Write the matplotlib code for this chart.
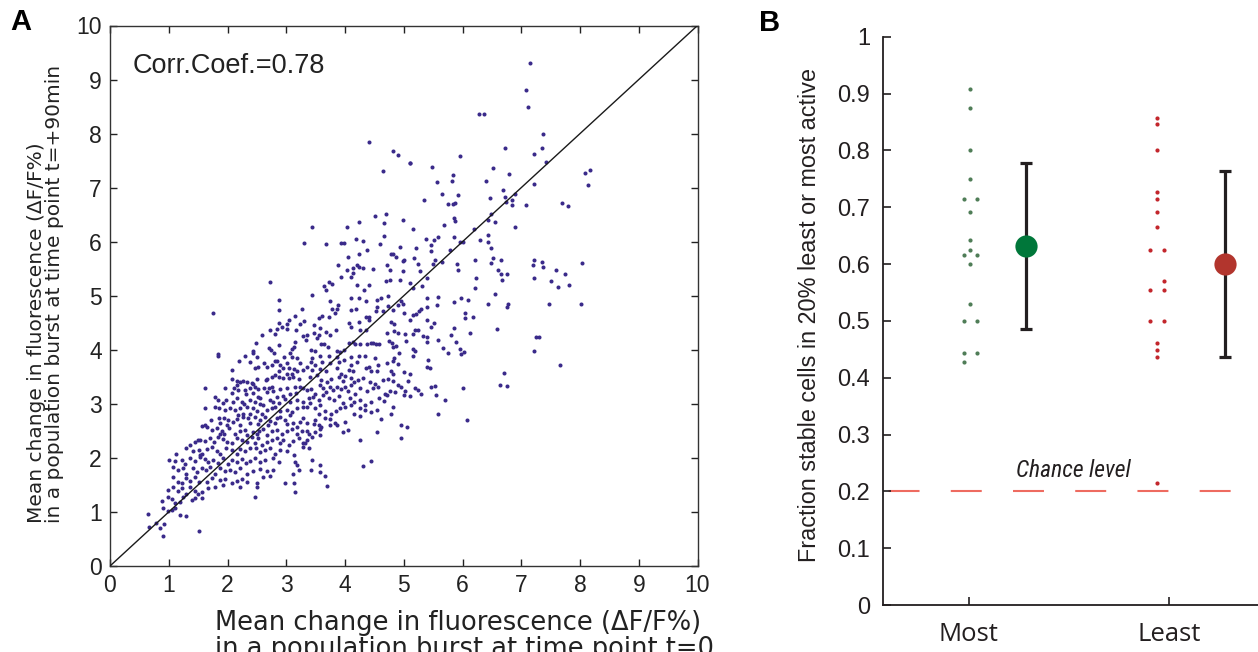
import matplotlib
matplotlib.use('Agg')
import matplotlib.pyplot as plt

plt.rcParams['font.family'] = ['Liberation Sans', 'DejaVu Sans']
plt.rcParams['lines.scale_dashes'] = False

# ------------------------------------------------------------------
# Panel A data: mean dF/F per cell at t=0 (x) and t=+90min (y)
# (grouped by region of the scatter)
# ------------------------------------------------------------------
cloud_upper_left = [
    (4.40,7.84),(4.81,7.67),(4.91,7.60),(4.65,7.31),(5.10,7.45),(3.44,6.28),(3.31,5.97),(3.68,5.96),
    (4.04,6.27),(4.23,6.36),(4.51,6.48),(4.69,6.52),(4.66,6.35),(4.99,6.40),(3.94,5.98),(3.99,5.97),
    (4.18,6.05),(4.31,6.01),(4.66,6.11),(4.60,5.96),(4.05,5.71),(4.24,5.78),(4.38,5.85),(4.78,5.78),
    (4.82,5.77),(4.87,5.72),(4.93,5.91),(3.88,5.56),(4.04,5.48),(4.13,5.51),(4.21,5.57),(4.13,5.43),
    (4.24,5.53),(4.31,5.51),(4.47,5.49),(4.72,5.56),(4.77,5.48),(4.99,5.46),(4.99,5.65),(2.73,5.25),
    (3.64,5.18),(3.73,5.26),(3.78,5.21),(3.94,5.34),(4.10,5.35),(4.20,5.20),(4.41,5.19),(4.33,5.10),
    (3.67,5.10),(4.70,5.27),(4.77,5.29),(4.93,5.30),(4.73,5.00),(3.44,5.01),(4.10,4.96),(4.23,4.96),
    (4.62,4.95),
]
cloud_upper_right = [
    (7.15,9.30),(7.08,8.80),(7.12,8.49),(6.28,8.36),(6.36,8.37),(7.37,8.00),(6.72,7.73),(7.36,7.73),
    (7.21,7.63),(7.42,7.47),(5.95,7.58),(5.11,7.46),(5.48,7.38),(6.52,7.36),(5.84,7.23),(5.82,7.13),
    (6.79,7.26),(8.08,7.27),(8.17,7.33),(8.14,7.04),(5.56,7.10),(6.40,7.12),(7.22,7.07),(5.65,6.88),
    (5.93,6.86),(6.69,6.96),(6.89,6.89),(5.35,6.77),(5.76,6.69),(5.83,6.70),(5.87,6.71),(6.47,6.80),
    (6.72,6.83),(6.84,6.77),(6.85,6.67),(6.74,6.73),(7.08,6.67),(7.70,6.72),(7.79,6.66),(6.48,6.52),
    (6.43,6.40),(6.56,6.36),(5.85,6.43),(5.88,6.38),(5.69,6.30),(5.16,6.23),(6.20,6.23),(6.89,6.28),
    (5.38,6.05),(5.52,6.04),(5.58,6.08),(5.85,6.08),(5.96,5.99),(6.00,5.99),(6.29,6.03),(6.43,6.12),
    (6.44,6.00),(6.49,5.88),(5.21,5.88),(5.46,5.93),(5.46,5.82),(5.78,5.85),(5.00,5.66),(5.17,5.69),
    (5.24,5.59),(5.53,5.67),(5.49,5.58),(5.65,5.62),(5.92,5.48),(5.91,5.59),(6.22,5.66),(6.52,5.70),
    (6.48,5.61),(6.66,5.66),(6.60,5.48),(6.66,5.40),(6.75,5.40),(6.68,5.30),(6.23,5.33),(6.21,5.14),
    (6.55,5.04),(7.21,5.67),(7.20,5.56),(7.36,5.62),(7.37,5.54),(7.21,5.33),(7.51,5.28),(7.59,5.47),
    (7.63,5.17),(7.74,5.41),(7.82,5.19),(8.03,5.61),(5.27,5.45),(5.40,5.33),(5.31,5.18),(5.15,5.14),
    (5.11,5.23),(5.40,4.96),(5.59,4.97),(5.97,4.95),
]
cloud_right_mid = [
    (4.99,4.85),(5.85,4.88),(6.10,4.92),(6.44,4.84),(6.76,4.80),(6.78,4.85),(7.47,4.85),(8.01,4.84),
    (5.57,4.82),(5.39,4.79),(5.30,4.76),(5.26,4.72),(5.21,4.66),(5.15,4.65),(5.11,4.56),(5.01,4.69),
    (6.04,4.69),(6.04,4.59),(6.18,4.61),(5.40,4.55),(5.51,4.50),(5.47,4.43),(5.19,4.37),(5.24,4.37),
    (6.58,4.38),(5.85,4.40),(5.80,4.28),(6.13,4.32),(5.02,4.30),(5.15,4.29),(5.33,4.25),(5.40,4.23),
    (5.03,4.17),(5.39,4.14),(5.59,4.19),(7.25,4.24),(7.30,4.24),(5.89,4.14),(5.66,4.04),(5.75,3.94),
    (5.96,4.01),(5.97,3.93),(6.03,3.96),(5.15,4.01),(5.19,3.97),(5.15,3.89),(7.21,3.97),(5.42,3.82),
    (5.39,3.69),(5.45,3.66),(7.66,3.72),(5.01,3.59),(5.10,3.56),(5.07,3.42),(6.70,3.58),(6.64,3.35),
    (6.75,3.33),(6.01,3.29),(4.95,3.31),(5.02,3.23),(5.00,3.16),(5.11,3.15),(5.19,3.29),(5.25,3.25),
    (5.29,3.19),(5.47,3.31),(5.53,3.33),(5.55,3.17),(5.70,3.07),(5.59,2.82),(6.07,2.70),(4.96,2.60),
    (5.06,2.57),(4.96,2.36),
]
cloud_left_edge = [
    (1.75,4.69),(2.87,4.92),(2.88,4.74),(3.26,4.76),(3.15,4.63),(3.05,4.55),(3.01,4.48),(2.93,4.42),
    (2.87,4.49),(2.84,4.39),(2.72,4.37),(3.02,4.38),(3.17,4.36),(3.30,4.53),(3.24,4.48),(2.80,4.30),
    (2.58,4.27),(2.88,4.09),(3.29,4.26),(2.49,4.12),(3.15,4.15),(3.13,4.06),(3.09,4.01),(3.06,3.95),
    (2.71,4.03),(2.74,4.00),(2.79,3.95),(2.43,3.98),(2.43,3.94),(1.83,3.92),
]
cloud_mid_band = [
    (3.75,4.90),(3.88,4.82),(4.35,4.90),(4.55,4.92),(4.95,4.90),(3.78,4.75),(3.86,4.76),(4.11,4.74),
    (4.18,4.75),(4.54,4.79),(4.73,4.81),(4.82,4.74),(4.91,4.82),(4.52,4.71),(4.64,4.72),(4.36,4.61),
    (4.41,4.61),(3.60,4.63),(3.56,4.58),(3.72,4.60),(3.83,4.69),(3.48,4.45),(3.57,4.41),(4.06,4.50),
    (4.10,4.43),(4.24,4.51),(4.40,4.56),(4.78,4.52),(4.83,4.48),(3.36,4.27),(3.47,4.32),(3.56,4.27),
    (3.68,4.33),(3.74,4.27),(3.85,4.36),(4.25,4.36),(4.36,4.36),(4.71,4.32),(4.84,4.34),(4.90,4.32),
    (3.33,4.18),(3.52,4.22),(3.59,4.11),(3.65,4.10),(3.71,4.06),(4.06,4.13),(4.14,4.14),(4.17,4.11),
    (4.26,4.11),(4.38,4.10),(4.44,4.12),(4.48,4.12),(4.53,4.11),(4.58,4.10),(4.75,4.17),(4.80,4.13),
    (4.87,4.07),(3.42,4.00),(3.49,3.97),(3.86,3.97),(3.91,3.96),(3.98,4.00),(4.81,4.05),(4.92,3.94),
]
cloud_core_left = [
    (1.84,3.89),(2.20,3.79),(2.29,3.89),(2.50,3.87),(2.62,3.75),(2.81,3.80),(2.85,3.79),(2.96,3.87),
    (3.09,3.87),(3.18,3.85),(3.23,3.75),(2.75,3.72),(3.01,3.75),(2.38,3.78),(2.52,3.69),(2.47,3.66),
    (2.67,3.69),(2.89,3.72),(2.95,3.66),(3.05,3.67),(3.13,3.64),(3.29,3.63),(2.88,3.60),(2.81,3.53),
    (3.01,3.56),(3.09,3.55),(3.18,3.60),(2.07,3.63),(2.07,3.46),(2.17,3.42),(2.21,3.40),(2.27,3.42),
    (2.34,3.41),(2.41,3.38),(2.50,3.46),(2.66,3.44),(2.75,3.50),(2.87,3.49),(2.94,3.48),(3.04,3.47),
    (3.12,3.50),(3.21,3.46),(2.16,3.35),(2.44,3.36),(2.67,3.46),(1.61,3.29),(1.96,3.29),(2.11,3.29),
    (2.18,3.26),(2.30,3.26),(2.38,3.29),(2.47,3.32),(2.52,3.27),(2.62,3.30),(2.70,3.29),(2.75,3.32),
    (2.78,3.23),(2.89,3.27),(3.01,3.29),(3.15,3.32),(3.23,3.31),(3.29,3.29),(2.07,3.20),(2.31,3.18),
    (2.44,3.20),(2.52,3.13),(2.67,3.21),(2.84,3.13),(2.95,3.15),(3.06,3.18),(3.17,3.20),(1.79,3.13),
    (1.83,3.07),(1.97,3.07),(2.09,3.04),(1.93,3.01),(2.16,3.10),(2.24,3.04),(2.28,2.99),(2.38,3.07),
    (2.47,3.04),(2.55,3.10),(2.61,2.98),(2.72,3.07),(2.78,3.04),(2.87,3.01),(2.98,3.09),(3.06,3.04),
    (3.18,3.07),(3.28,3.04),(2.56,2.99),(1.62,2.92),(1.79,2.95),(1.86,2.93),(1.96,2.89),(2.04,2.92),
    (2.13,2.89),(2.21,2.93),(2.33,2.95),(2.44,2.92),(2.50,2.86),(2.58,2.82),(2.67,2.89),(2.75,2.92),
    (2.81,2.95),(2.89,2.86),(3.01,2.89),(3.09,2.84),(3.18,2.92),(3.29,2.95),(2.27,2.82),(2.38,2.81),
    (2.18,2.79),(1.72,2.70),(1.86,2.74),(1.94,2.74),(2.01,2.70),(1.87,2.64),(2.10,2.67),(2.16,2.72),
    (2.27,2.76),(2.35,2.73),(2.47,2.76),(2.55,2.71),(2.64,2.76),(2.72,2.68),(2.84,2.73),(2.89,2.76),
    (2.98,2.70),(3.06,2.79),(3.12,2.64),(3.23,2.67),(3.28,2.73),(1.62,2.61),(1.57,2.59),(1.99,2.61),
    (2.21,2.61),(2.38,2.64),(2.52,2.62),(2.69,2.61),(2.81,2.64),(3.01,2.62),(3.18,2.58),(1.65,2.58),
    (1.73,2.52),(1.82,2.55),(1.90,2.50),(1.94,2.44),(2.03,2.55),(2.13,2.45),(2.21,2.49),(2.30,2.52),
    (2.34,2.42),(2.44,2.47),(2.50,2.45),(2.54,2.49),(2.61,2.53),(2.67,2.42),(2.75,2.49),(2.84,2.52),
    (2.92,2.44),(3.01,2.49),(3.09,2.53),(3.18,2.45),(3.26,2.50),(1.87,2.44),(1.50,2.33),(1.37,2.24),
    (1.45,2.30),(1.53,2.33),(1.62,2.31),(1.70,2.36),(1.77,2.29),(1.83,2.39),(1.92,2.35),(1.99,2.30),
    (2.07,2.27),(2.16,2.37),(2.24,2.33),(2.33,2.29),(2.41,2.39),(2.47,2.27),(2.52,2.36),(2.58,2.24),
    (2.67,2.30),(2.75,2.33),(2.84,2.36),(2.89,2.27),(2.95,2.33),(3.04,2.24),(3.12,2.31),(3.21,2.36),
    (3.29,2.27),(1.13,2.07),(1.30,2.18),(1.42,2.12),(1.52,2.15),(1.56,2.08),(1.65,2.16),(1.73,2.21),
    (1.82,2.12),(1.88,2.07),(1.97,2.18),(2.07,2.15),(2.16,2.08),(2.21,2.16),(2.30,2.12),(2.38,2.18),
    (2.49,2.19),(2.55,2.10),(2.64,2.15),(2.72,2.18),(2.81,2.08),(2.89,2.15),(3.01,2.12),(3.14,2.05),
    (3.29,2.21),(1.53,2.05),(1.01,1.96),(1.11,1.94),(1.22,1.96),(1.28,1.88),(1.36,1.99),(1.45,1.94),
    (1.53,2.02),(1.62,1.98),(1.67,1.92),(1.76,1.96),(1.84,1.90),(1.93,1.99),(2.00,1.88),(2.07,1.96),
    (2.16,1.93),(2.24,1.98),(2.31,1.90),(2.38,1.94),(2.47,1.99),(2.55,1.92),(2.64,1.96),(2.78,1.99),
    (2.87,1.93),(3.15,1.93),(3.18,1.87),(1.08,1.84),(1.16,1.78),(1.25,1.81),(1.30,1.71),(1.41,1.81),
    (1.48,1.73),(1.56,1.81),(1.63,1.78),(1.70,1.84),(1.79,1.71),(1.87,1.81),(1.96,1.75),(2.05,1.78),
    (2.13,1.73),(2.21,1.81),(2.33,1.71),(2.44,1.76),(2.55,1.79),(2.67,1.75),(2.78,1.78),(3.12,1.70),
    (3.21,1.78),(1.08,1.65),(1.16,1.56),(1.22,1.53),(1.30,1.62),(1.36,1.57),(1.45,1.65),(1.52,1.55),
    (1.65,1.56),(1.73,1.62),(1.87,1.59),(1.96,1.61),(2.07,1.53),(2.16,1.57),(2.24,1.61),(2.33,1.56),
    (2.50,1.53),(2.60,1.65),(2.72,1.67),(2.98,1.54),(3.13,1.53),(0.99,1.41),(1.08,1.47),(1.16,1.38),
    (1.22,1.44),(1.30,1.34),(1.37,1.47),(1.45,1.39),(1.50,1.33),(1.56,1.36),(1.67,1.44),(1.79,1.47),
    (1.93,1.50),(2.21,1.47),(2.50,1.47),(3.15,1.36),(0.88,1.20),(0.99,1.28),(1.05,1.24),(1.11,1.16),
    (1.19,1.19),(1.25,1.28),(1.39,1.22),(1.45,1.26),(1.56,1.25),(2.47,1.28),(0.91,1.07),(0.99,1.01),
    (1.05,1.04),(1.11,1.08),(1.19,0.94),(1.30,0.93),(0.64,0.96),(0.78,0.79),(0.67,0.73),(0.85,0.70),
    (0.92,0.77),
]
cloud_core_right = [
    (3.43,3.85),(3.57,3.89),(3.73,3.89),(3.86,3.87),(3.99,3.81),(4.11,3.87),(4.23,3.89),(4.34,3.89),
    (4.51,3.85),(4.71,3.75),(4.84,3.84),(4.82,3.79),(4.90,3.73),(4.56,3.72),(4.40,3.69),(4.20,3.77),
    (4.11,3.72),(3.89,3.77),(3.74,3.75),(3.60,3.78),(3.49,3.72),(3.42,3.77),(3.36,3.69),(3.44,3.63),
    (3.57,3.65),(3.67,3.60),(3.86,3.66),(3.93,3.56),(4.06,3.63),(4.14,3.60),(4.35,3.66),(4.45,3.60),
    (4.54,3.61),(4.78,3.60),(4.82,3.56),(4.00,3.52),(3.40,3.50),(3.52,3.53),(3.59,3.44),(3.69,3.41),
    (3.77,3.46),(3.89,3.50),(3.97,3.42),(4.11,3.47),(4.22,3.44),(4.31,3.48),(4.43,3.41),(4.51,3.36),
    (4.65,3.44),(4.74,3.46),(4.82,3.42),(4.91,3.35),(4.16,3.40),(3.36,3.26),(3.42,3.27),(3.57,3.35),
    (3.63,3.29),(3.74,3.32),(3.80,3.26),(3.87,3.32),(3.94,3.27),(4.00,3.32),(4.11,3.34),(4.26,3.29),
    (4.37,3.23),(4.48,3.29),(4.57,3.32),(4.68,3.19),(4.77,3.23),(4.85,3.21),(3.49,3.18),(3.67,3.21),
    (4.05,3.23),(4.17,3.18),(3.38,3.10),(3.46,3.13),(3.55,3.07),(3.63,3.16),(3.72,3.10),(3.82,3.07),
    (3.89,3.15),(3.97,3.01),(4.08,3.11),(4.16,3.04),(4.26,3.07),(4.34,2.98),(4.45,3.04),(4.58,3.10),
    (4.67,3.05),(4.71,3.16),(3.40,3.01),(3.35,2.95),(3.49,2.92),(3.57,2.97),(3.66,2.87),(3.76,2.82),
    (3.84,2.86),(3.91,2.93),(4.00,2.95),(4.11,2.98),(4.26,2.92),(4.34,2.89),(4.45,2.84),(4.54,2.89),
    (4.78,2.82),(4.81,2.95),(3.55,2.81),(4.16,2.81),(4.26,2.78),(3.49,2.70),(3.66,2.74),(3.74,2.72),
    (3.83,2.64),(3.86,2.60),(3.74,2.60),(4.00,2.67),(4.62,2.72),(3.35,2.64),(3.48,2.62),(3.55,2.61),
    (3.59,2.58),(3.57,2.53),(3.49,2.47),(3.57,2.42),(3.43,2.39),(3.38,2.45),(3.35,2.49),(3.97,2.47),
    (4.05,2.52),(4.54,2.47),(4.26,2.33),(3.36,2.33),(3.38,2.18),(3.32,2.27),(3.44,1.97),(3.57,1.87),
    (3.42,1.78),(3.57,1.73),(3.66,1.67),(3.69,1.48),(4.30,1.85),(4.45,1.95),
]
cloud_low_tail = [(0.91,0.56),(1.51,0.64)]

corr_label = "Corr.Coef.=0.78"
a_xlabel = "Mean change in fluorescence (\u0394F/F%)\nin a population burst at time point t=0"
a_ylabel = "Mean change in fluorescence (\u0394F/F%)\nin a population burst at time point t=+90min"
a_ticks = [0, 1, 2, 3, 4, 5, 6, 7, 8, 9, 10]

# ------------------------------------------------------------------
# Panel B data
# ------------------------------------------------------------------
groups = ["Most", "Least"]
most_fraction = [0.908, 0.875, 0.800, 0.749, 0.714, 0.714, 0.692, 0.643, 0.625,
                 0.615, 0.615, 0.600, 0.529, 0.500, 0.500, 0.444, 0.444, 0.428]
least_fraction = [0.857, 0.846, 0.800, 0.727, 0.714, 0.691, 0.666, 0.625, 0.625,
                  0.571, 0.555, 0.555, 0.500, 0.500, 0.461, 0.449, 0.437, 0.215]
group_mean = [0.632, 0.600]
group_err = [0.146, 0.163]
chance_level = 0.2
b_yticks = [0, 0.1, 0.2, 0.3, 0.4, 0.5, 0.6, 0.7, 0.8, 0.9, 1]
b_ytick_labels = ["0", "0.1", "0.2", "0.3", "0.4", "0.5", "0.6", "0.7", "0.8", "0.9", "1"]

# layout (styles/positions)
most_side = [0, 0, 0, 0, -1, 1, 0, 0, 0, -1, 1, 0, 0, -1, 1, -1, 1, -1]
least_side = [0, 0, 0, 0, 0, 0, 0, -1, 1, 1, -1, 1, -1, 1, 0, 0, 0, 0]

W, H = 1258, 652
fig = plt.figure(figsize=(W / 100, H / 100), dpi=100)

# ---------------- Panel A ----------------
axA = fig.add_axes([110 / W, (H - 566) / H, 587.5 / W, 540.5 / H])
pts = (cloud_upper_left + cloud_upper_right + cloud_right_mid + cloud_left_edge +
       cloud_mid_band + cloud_core_left + cloud_core_right + cloud_low_tail)
xs = [p[0] for p in pts]
ys = [p[1] for p in pts]
axA.scatter(xs, ys, s=8.5, color='#3a2a8a', linewidths=0, zorder=2)
axA.plot([0, 10], [0, 10], color='#1a1a1a', lw=1.0, zorder=3)
axA.set_xlim(0, 10)
axA.set_ylim(0, 10)
axA.set_xticks(a_ticks)
axA.set_yticks(a_ticks)
axA.tick_params(direction='in', top=True, right=True, length=5, width=1,
                labelsize=16.5, pad=6, colors='#222222')
for sp in axA.spines.values():
    sp.set_linewidth(1.0)
    sp.set_color('#333333')
axA.text(0.39, 9.12, corr_label, fontsize=19.5, ha='left', va='baseline', color='#222222')

fig.text(215 / W, (H - 610) / H, a_xlabel, fontsize=18.5, family='DejaVu Sans',
         ha='left', va='top', multialignment='left', linespacing=1.0, color='#222222')
fig.text(45.5 / W, (H - 523) / H, a_ylabel, fontsize=14.5, family='DejaVu Sans', rotation=90,
         ha='center', va='bottom', multialignment='left', linespacing=0.95, color='#222222')

fig.text(10 / W, (H - 30) / H, "A", fontsize=21, fontweight='bold', ha='left', va='baseline')
fig.text(759 / W, (H - 31) / H, "B", fontsize=21, fontweight='bold', ha='left', va='baseline')

# ---------------- Panel B ----------------
axB = fig.add_axes([882.7 / W, (H - 605) / H, (W - 882.7) / W, 568.3 / H])
x_left, x_right = 0.5706, 2.444
axB.set_xlim(x_left, x_right)
axB.set_ylim(0, 1)
dot_pos = [1.008, 1.939]
mean_pos = [1.287, 2.280]
jit = 0.034

axB.plot([x_left, 2.313], [chance_level, chance_level], color='#ee6b60', lw=1.5,
         linestyle=(40.8, (22.3, 22.5)), zorder=1, solid_capstyle='butt', dash_capstyle='butt')

axB.plot([dot_pos[0] + s * jit for s in most_side], most_fraction, 'o', ms=3.0,
         color='#4f7d57', mec='none', zorder=3)
axB.plot([dot_pos[1] + s * jit for s in least_side], least_fraction, 'o', ms=3.0,
         color='#c3262c', mec='none', zorder=3)

mean_colors = ['#00773a', '#b2352d']
for i in range(2):
    axB.errorbar([mean_pos[i]], [group_mean[i]], yerr=[group_err[i]], fmt='none',
                 ecolor='#231f20', elinewidth=2.3, capsize=4.0, capthick=2.3, zorder=4)
    axB.plot([mean_pos[i]], [group_mean[i]], 'o', ms=16, color=mean_colors[i], mec='none', zorder=5)

axB.text(1.236, 0.226, "Chance level", fontsize=17, style='italic',
         family=['Liberation Sans Narrow', 'Roboto Condensed', 'DejaVu Sans'], stretch='condensed',
         ha='left', va='baseline', color='#231f20')

axB.spines['top'].set_visible(False)
axB.spines['right'].set_visible(False)
for sp in ['left', 'bottom']:
    axB.spines[sp].set_linewidth(1.3)
    axB.spines[sp].set_color('#231f20')
axB.set_yticks(b_yticks)
axB.set_yticklabels(b_ytick_labels)
axB.set_xticks([1, 2])
axB.set_xticklabels(groups, family=['Open Sans', 'DejaVu Sans'], fontsize=18.5)
axB.tick_params(axis='y', direction='in', length=6, width=1.2, labelsize=17, pad=9,
                colors='#231f20')
axB.tick_params(axis='x', direction='in', length=6, width=1.2, pad=12, colors='#231f20')

fig.text(809 / W, (H - 315.5) / H, "Fraction stable cells in 20% least or most active",
         fontsize=16.8, rotation=90, ha='center', va='center', color='#231f20')

fig.savefig('out.png', dpi=100)
